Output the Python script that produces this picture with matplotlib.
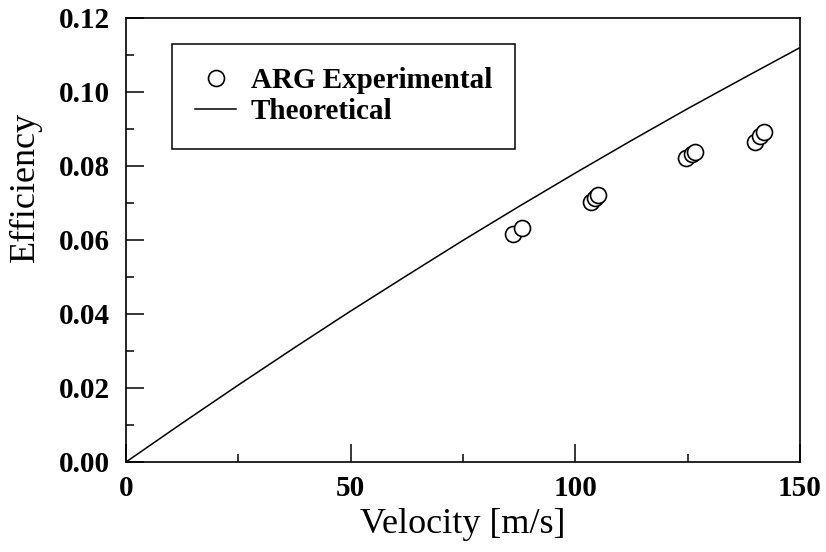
import numpy as np
from matplotlib import pyplot as plt
from matplotlib.ticker import MultipleLocator

# ARG experimental points
velocity_exp = [86.1, 88.1, 103.5, 104.4, 105.1, 124.6, 126.0, 126.6, 140.0, 141.1, 142.0]
efficiency_exp = [0.0615, 0.0632, 0.0702, 0.0714, 0.0722, 0.0822, 0.0832, 0.0838, 0.0864, 0.0882, 0.0892]

# theoretical curve (slightly concave, from origin), read every 12.5 m/s
velocity_th = [0, 12.5, 25, 37.5, 50, 62.5, 75, 87.5, 100, 112.5, 125, 137.5, 150]
efficiency_th = [0.0, 0.0105, 0.0208, 0.0309, 0.0408, 0.0504, 0.0599,
                 0.0691, 0.0781, 0.0869, 0.0955, 0.1038, 0.1120]

plt.rcParams['font.family'] = ['Liberation Serif', 'DejaVu Serif']

fig = plt.figure(figsize=(8.26, 5.52), dpi=100)
ax = fig.add_axes([126/826, 1 - 462/552, 674/826, 444/552])

ax.plot(velocity_exp, efficiency_exp, linestyle='none', marker='o', markersize=11.5,
        markerfacecolor='white', markeredgecolor='black', markeredgewidth=1.2,
        label='ARG Experimental', zorder=3)
ax.plot(velocity_th, efficiency_th, color='black', linewidth=1.1, label='Theoretical')

ax.set_xlim(0, 150)
ax.set_ylim(0, 0.12)
ax.xaxis.set_major_locator(MultipleLocator(50))
ax.xaxis.set_minor_locator(MultipleLocator(25))
ax.yaxis.set_major_locator(MultipleLocator(0.02))
ax.yaxis.set_minor_locator(MultipleLocator(0.01))
ax.yaxis.set_major_formatter(plt.FormatStrFormatter('%.2f'))

ax.tick_params(which='both', direction='in', top=False, right=False, width=1.1)
ax.tick_params(which='major', length=13)
ax.tick_params(which='minor', length=6)
ax.tick_params(axis='x', pad=9)
ax.tick_params(axis='y', pad=11.5)
for lab in ax.get_xticklabels() + ax.get_yticklabels():
    lab.set_fontsize(21)
    lab.set_fontweight('bold')
for sp in ax.spines.values():
    sp.set_linewidth(1.2)

ax.set_xlabel('Velocity [m/s]', fontsize=26, labelpad=5)
ax.set_ylabel('Efficiency', fontsize=26)
ax.yaxis.set_label_coords(-0.124, 0.62)

leg = ax.legend(loc='upper left', bbox_to_anchor=(0.068, 0.942), borderaxespad=0,
                prop={'size': 21, 'weight': 'bold'}, fancybox=False, framealpha=1,
                edgecolor='black', handlelength=1.4, handletextpad=0.5,
                borderpad=0.8, labelspacing=0.15)
leg.get_frame().set_linewidth(1.1)

fig.savefig('out.png', dpi=100)
